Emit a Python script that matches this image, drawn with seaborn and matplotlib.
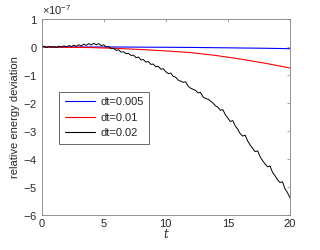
import numpy as np
import pandas as pd
import matplotlib
matplotlib.use("Agg")
import matplotlib.pyplot as plt
import seaborn as sns

# values in units of 1e-7
t_fine = [round(i * 0.2, 1) for i in range(101)]
dev_002 = [0.00, 0.03, -0.02, 0.02, -0.01,
           0.01, -0.02, 0.03, 0.00, 0.04,
           0.01, 0.05, 0.02, 0.06, 0.03,
           0.08, 0.04, 0.10, 0.06, 0.12,
           0.07, 0.13, 0.08, 0.12, 0.05,
           0.08, 0.00, 0.02, -0.06, -0.05,
           -0.12, -0.10, -0.18, -0.17, -0.24,
           -0.23, -0.30, -0.29, -0.38, -0.36,
           -0.46, -0.45, -0.54, -0.52, -0.62,
           -0.61, -0.71, -0.69, -0.79, -0.78,
           -0.88, -0.95, -0.93, -1.05, -1.08,
           -1.18, -1.22, -1.26, -1.24, -1.40,
           -1.47, -1.51, -1.55, -1.64, -1.62,
           -1.78, -1.84, -1.86, -1.93, -2.00,
           -2.10, -2.15, -2.26, -2.24, -2.42,
           -2.54, -2.66, -2.63, -2.82, -2.94,
           -3.10, -3.18, -3.15, -3.36, -3.50,
           -3.62, -3.74, -3.71, -3.92, -4.06,
           -4.18, -4.28, -4.25, -4.48, -4.60,
           -4.74, -4.84, -4.81, -5.06, -5.20,
           -5.38]
t_coarse = [0, 2, 4, 6, 8, 10, 12, 14, 16, 18, 20]
dev_001 = [0.0, -0.01, -0.02, -0.05, -0.09, -0.14, -0.20, -0.30, -0.43, -0.58, -0.75]
dev_0005 = [0.0, 0.0, 0.0, 0.0, -0.005, -0.01, -0.015, -0.025, -0.035, -0.045, -0.06]
labels = ["dt=0.005", "dt=0.01", "dt=0.02"]
colors = ["#0000ff", "#ff0000", "#000000"]
scale = 1e-7

df = pd.concat([
    pd.DataFrame({"t": t_coarse, "dev": np.array(dev_0005) * scale, "series": labels[0]}),
    pd.DataFrame({"t": t_coarse, "dev": np.array(dev_001) * scale, "series": labels[1]}),
    pd.DataFrame({"t": t_fine, "dev": np.array(dev_002) * scale, "series": labels[2]}),
])

sns.set_style("white")
plt.rcParams["font.family"] = ["Liberation Sans", "DejaVu Sans"]
plt.rcParams["axes.unicode_minus"] = False
plt.rcParams["mathtext.fontset"] = "custom"
plt.rcParams["mathtext.rm"] = "Liberation Sans"

fig = plt.figure(figsize=(3.2, 2.5), dpi=100)
ax = fig.add_axes([0.13, 0.14, 0.776, 0.784])
sns.lineplot(data=df, x="t", y="dev", hue="series", palette=dict(zip(labels, colors)),
             ax=ax, linewidth=0.8, sort=False)
ax.get_lines()[2].set_linewidth(0.7)

ax.set_xlim(0, 20)
ax.set_ylim(-6e-7, 1e-7)
ax.set_xticks([0, 5, 10, 15, 20])
ax.set_yticks(np.arange(-6, 2) * scale)
ax.ticklabel_format(axis="y", style="sci", scilimits=(0, 0), useMathText=True)
ax.yaxis.get_offset_text().set_fontsize(8)
ax.yaxis.get_offset_text().set_color("#262626")

gray = "#262626"
for s in ax.spines.values():
    s.set_color("#808080")
    s.set_linewidth(0.6)
ax.tick_params(direction="in", length=2.5, width=0.5, colors="#808080",
               labelcolor=gray, labelsize=8, top=True, right=True, pad=3)
ax.set_xlabel("t", fontsize=8.5, fontstyle="italic", family="serif", color=gray, labelpad=-1)
ax.set_ylabel("relative energy deviation", fontsize=8, color=gray, labelpad=2)

leg = ax.legend(loc="upper left", bbox_to_anchor=(0.072, 0.629), fontsize=8,
                frameon=True, fancybox=False, edgecolor=gray, handlelength=2.7,
                borderpad=0.5, labelspacing=0.5, handletextpad=0.45, borderaxespad=0)
leg.get_frame().set_linewidth(0.6)
for line in leg.get_lines():
    line.set_linewidth(0.8)

fig.savefig("out.png", dpi=100)
